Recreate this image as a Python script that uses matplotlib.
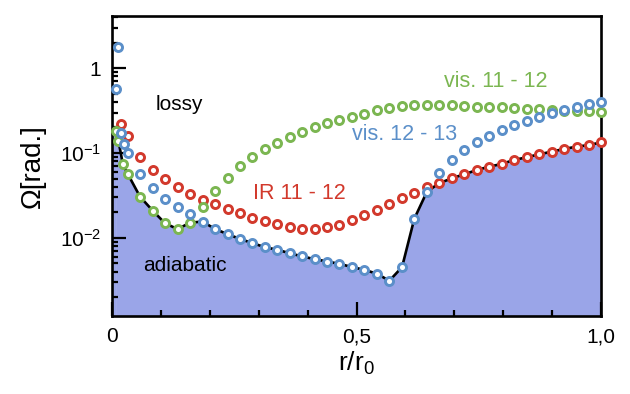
import matplotlib
matplotlib.use("Agg")
import matplotlib.pyplot as plt
import numpy as np

plt.rcParams["font.family"] = ["Liberation Sans", "DejaVu Sans"]
plt.rcParams["mathtext.fontset"] = "custom"
plt.rcParams["mathtext.rm"] = "Liberation Sans"

# radial grid shared by the three series (r/r0)
r_main = [0.032, 0.057, 0.083, 0.108, 0.134, 0.159, 0.185, 0.210, 0.236, 0.261,
          0.287, 0.312, 0.338, 0.363, 0.389, 0.414, 0.440, 0.465, 0.491, 0.516,
          0.542, 0.567, 0.593, 0.618, 0.644, 0.669, 0.695, 0.720, 0.746, 0.771,
          0.797, 0.822, 0.848, 0.873, 0.899, 0.924, 0.950, 0.975, 1.000]

# vis. 12 - 13 (blue)
blue_main = [0.099, 0.0566, 0.0384, 0.0285, 0.0230, 0.0190, 0.01556, 0.01276, 0.01106, 0.00973,
             0.00867, 0.00778, 0.00723, 0.0066, 0.00603, 0.00562, 0.00526, 0.00494, 0.00452, 0.0042,
             0.00377, 0.00312, 0.00452, 0.01675, 0.0351, 0.0577, 0.0828, 0.1084, 0.136, 0.160,
             0.1866, 0.2135, 0.240, 0.267, 0.293, 0.321, 0.351, 0.377, 0.402]
blue_left_r = [0.0076, 0.0117, 0.018, 0.025]
blue_left = [0.566, 1.77, 0.170, 0.126]

# IR 11 - 12 (red)
red_main = [0.158, 0.0904, 0.063, 0.049, 0.0395, 0.033, 0.028, 0.0249, 0.0218, 0.0195,
            0.0173, 0.0158, 0.0146, 0.01336, 0.01276, 0.01265, 0.01336, 0.0142, 0.0163, 0.0185,
            0.0213, 0.0251, 0.0293, 0.0341, 0.0395, 0.044, 0.0504, 0.0561, 0.063, 0.069,
            0.0743, 0.0828, 0.089, 0.0965, 0.1036, 0.1115, 0.1188, 0.124, 0.1334]
red_left_r = [0.018]
red_left = [0.219]

# vis. 11 - 12 (green)
green_main = [0.0566, 0.0306, 0.0209, 0.0149, 0.01265, 0.0151, 0.023, 0.036, 0.0512, 0.0703,
              0.0904, 0.1115, 0.132, 0.1555, 0.1767, 0.2005, 0.2236, 0.2445, 0.267, 0.2877,
              0.321, 0.336, 0.357, 0.367, 0.372, 0.372, 0.365, 0.36, 0.353, 0.347,
              0.344, 0.337, 0.333, 0.330, 0.324, 0.316, 0.313, 0.311, 0.306]
green_left_r = [0.007, 0.013, 0.022]
green_left = [0.18, 0.138, 0.0736]

blue_c = "#5B8FC9"
red_c = "#D2392C"
green_c = "#7BB651"
fill_c = "#9AA5E8"

# adiabatic limit = lowest of the three series
bound_r = np.array(green_left_r + r_main)
bound_v = np.concatenate([green_left, np.minimum(np.minimum(blue_main, red_main), green_main)])

fig = plt.figure(figsize=(6.3, 3.94), dpi=100)
ax = fig.add_axes([0.178, 0.198, 0.776, 0.761])

ax.fill_between(bound_r, bound_v, 1e-4, color=fill_c, lw=0, zorder=1)
ax.fill_between([0, bound_r[0]], [bound_v[0], bound_v[0]], 1e-4, color=fill_c, lw=0, zorder=1)
ax.plot(bound_r, bound_v, color="black", lw=1.9, zorder=2)

mk = dict(ls="none", marker="o", ms=5.8, mew=2.1, mfc="white", clip_on=False, zorder=3)
ax.plot(r_main + red_left_r, red_main + red_left, mec=red_c, **mk)
ax.plot(r_main + green_left_r, green_main + green_left, mec=green_c, **mk)
ax.plot(r_main + blue_left_r, blue_main + blue_left, mec=blue_c, **mk)

ax.set_yscale("log")
ax.set_xlim(0, 1.0)
ax.set_ylim(1.2e-3, 4.1)

ax.set_xticks([0, 0.5, 1.0])
ax.set_xticklabels(["0", "0,5", "1,0"])
ax.set_xticks(np.arange(0.1, 1.0, 0.1), minor=True)
ax.set_yticks([1e-2, 1e-1, 1])
ax.set_yticklabels([r"$\mathregular{10^{-2}}$", r"$\mathregular{10^{-1}}$", "1"])

ax.tick_params(which="both", direction="in", top=False, right=False, width=1.6, labelsize=15, pad=8)
ax.tick_params(which="major", length=10)
ax.tick_params(which="minor", length=4.5)
for s in ax.spines.values():
    s.set_linewidth(1.9)

ax.set_xlabel(r"$\mathregular{r/r_0}$", fontsize=19, labelpad=3)
ax.set_ylabel(u"\u03a9[rad.]", fontsize=20, labelpad=10)

ax.text(0.137, 0.377, "lossy", fontsize=15, ha="center", va="center")
ax.text(0.148, 0.00468, "adiabatic", fontsize=15, ha="center", va="center")
ax.text(0.382, 0.033, "IR 11 - 12", fontsize=15.5, color=red_c, ha="center", va="center")
ax.text(0.785, 0.694, "vis. 11 - 12", fontsize=15.5, color=green_c, ha="center", va="center")
ax.text(0.599, 0.165, "vis. 12 - 13", fontsize=15.5, color=blue_c, ha="center", va="center")

fig.savefig("out.png", dpi=100)
